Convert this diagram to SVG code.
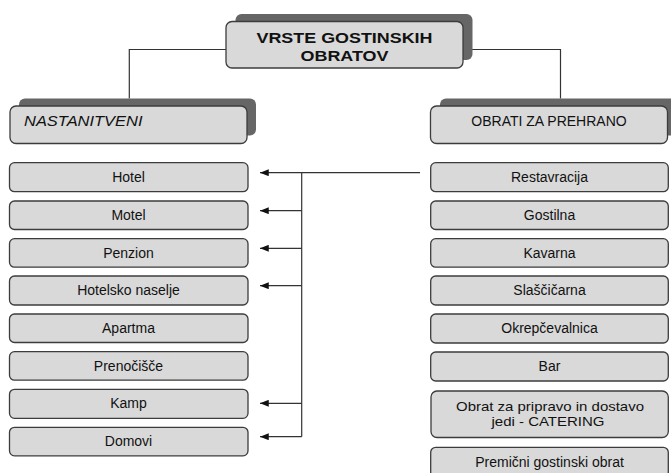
<svg xmlns="http://www.w3.org/2000/svg" width="671" height="473" viewBox="0 0 671 473">
<defs>
<style>
.box{fill:#d9d9d9;stroke:#3c3c3c;stroke-width:1.3}
.shadow{fill:#666}
.t{font-family:"Liberation Sans",Arial,sans-serif;font-size:14px;fill:#111;text-anchor:middle}
.title{font-weight:bold;font-size:15px}
.small{font-size:13px}
.conn{fill:none;stroke:#333;stroke-width:1.2}
</style>
<marker id="arr" viewBox="0 0 10 8" refX="10" refY="4" markerWidth="9" markerHeight="7" markerUnits="userSpaceOnUse" orient="auto">
<path d="M0,0 L10,4 L0,8 z" fill="#111"/>
</marker>
</defs>
<rect width="671" height="473" fill="#fff"/>

<g id="connectors">
<path class="conn" d="M226,49.5 H129.3 V98.5"/>
<path class="conn" d="M463,49.5 H560.5 V98.5"/>
<path class="conn" d="M420,172.7 H301.7 V436.7"/>
<line class="conn" x1="301.7" y1="172.7" x2="260" y2="172.7" marker-end="url(#arr)"/>
<line class="conn" x1="301.7" y1="210.7" x2="260" y2="210.7" marker-end="url(#arr)"/>
<line class="conn" x1="301.7" y1="248.3" x2="260" y2="248.3" marker-end="url(#arr)"/>
<line class="conn" x1="301.7" y1="285.7" x2="260" y2="285.7" marker-end="url(#arr)"/>
<line class="conn" x1="301.7" y1="403.3" x2="260" y2="403.3" marker-end="url(#arr)"/>
<line class="conn" x1="301.7" y1="436.7" x2="260" y2="436.7" marker-end="url(#arr)"/>
</g>

<g id="root">
<rect class="shadow" x="235.5" y="14" width="237" height="46" rx="6"/>
<rect class="box" x="226" y="21.5" width="237" height="46.5" rx="6"/>
<text class="t title" x="344.5" y="43.3" textLength="176" lengthAdjust="spacingAndGlyphs">VRSTE GOSTINSKIH</text>
<text class="t title" x="344.5" y="61" textLength="88" lengthAdjust="spacingAndGlyphs">OBRATOV</text>
</g>

<g id="nastanitveni">
<rect class="shadow" x="19" y="98.5" width="237" height="37" rx="6"/>
<rect class="box" x="10" y="106" width="237" height="37.5" rx="6"/>
<text class="t" x="24" y="126" style="text-anchor:start;font-style:italic" textLength="118.5" lengthAdjust="spacingAndGlyphs">NASTANITVENI</text>
</g>

<g id="prehrana">
<rect class="shadow" x="440" y="98.5" width="237" height="37" rx="6"/>
<rect class="box" x="430.5" y="106" width="237" height="37.5" rx="6"/>
<text class="t" x="549" y="126">OBRATI ZA PREHRANO</text>
</g>

<g id="hotel"><rect class="box" x="9.5" y="162.7" width="238.5" height="29" rx="5"/><text class="t" x="128.5" y="181.8">Hotel</text></g>
<g id="motel"><rect class="box" x="9.5" y="201" width="238.5" height="28.5" rx="5"/><text class="t" x="128.5" y="220">Motel</text></g>
<g id="penzion"><rect class="box" x="9.5" y="238.7" width="238.5" height="28.5" rx="5"/><text class="t" x="128.5" y="257.7">Penzion</text></g>
<g id="hotelsko-naselje"><rect class="box" x="9.5" y="276" width="238.5" height="29" rx="5"/><text class="t" x="128.5" y="295">Hotelsko naselje</text></g>
<g id="apartma"><rect class="box" x="9.5" y="314" width="238.5" height="28.5" rx="5"/><text class="t" x="128.5" y="333">Apartma</text></g>
<g id="prenocisce"><rect class="box" x="9.5" y="351.7" width="238.5" height="28.5" rx="5"/><text class="t" x="128.5" y="370.7">Prenočišče</text></g>
<g id="kamp"><rect class="box" x="9.5" y="389.3" width="238.5" height="29" rx="5"/><text class="t" x="128.5" y="408.3">Kamp</text></g>
<g id="domovi"><rect class="box" x="9.5" y="427.3" width="238.5" height="28.5" rx="5"/><text class="t" x="128.5" y="446.3">Domovi</text></g>

<g id="restavracija"><rect class="box" x="430.7" y="162.7" width="237.6" height="29" rx="5"/><text class="t" x="549.5" y="181.8">Restavracija</text></g>
<g id="gostilna"><rect class="box" x="430.7" y="201" width="237.6" height="28.5" rx="5"/><text class="t" x="549.5" y="220">Gostilna</text></g>
<g id="kavarna"><rect class="box" x="430.7" y="238.7" width="237.6" height="28.5" rx="5"/><text class="t" x="549.5" y="257.7">Kavarna</text></g>
<g id="slascicarna"><rect class="box" x="430.7" y="276" width="237.6" height="29" rx="5"/><text class="t" x="549.5" y="295">Slaščičarna</text></g>
<g id="okrepcevalnica"><rect class="box" x="430.7" y="314" width="237.6" height="29" rx="5"/><text class="t" x="549.5" y="333">Okrepčevalnica</text></g>
<g id="bar"><rect class="box" x="430.7" y="352" width="237.6" height="29" rx="5"/><text class="t" x="549.5" y="371">Bar</text></g>
<g id="catering"><rect class="box" x="431" y="391" width="237.3" height="46.5" rx="6"/><text class="t small" x="550" y="411" textLength="188" lengthAdjust="spacingAndGlyphs">Obrat za pripravo in dostavo</text><text class="t small" x="548" y="426" textLength="113" lengthAdjust="spacingAndGlyphs">jedi - CATERING</text></g>
<g id="premicni"><rect class="box" x="430.7" y="447.3" width="237.6" height="30" rx="5"/><text class="t" x="549.5" y="466.8">Premični gostinski obrat</text></g>
</svg>
